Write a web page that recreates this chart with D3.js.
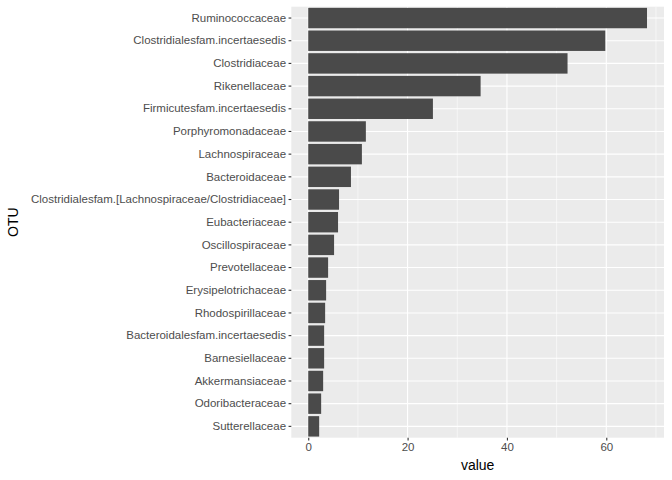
<!DOCTYPE html>
<html>
<head>
<script src="https://d3js.org/d3.v7.min.js"></script>
<style>body{margin:0;background:#fff}text{font-family:"Liberation Sans",Arial,sans-serif}</style>
</head>
<body>
<div id="chart"></div>
<script>
const otus = ["Ruminococcaceae","Clostridialesfam.incertaesedis","Clostridiaceae","Rikenellaceae",
  "Firmicutesfam.incertaesedis","Porphyromonadaceae","Lachnospiraceae","Bacteroidaceae",
  "Clostridialesfam.[Lachnospiraceae/Clostridiaceae]","Eubacteriaceae","Oscillospiraceae",
  "Prevotellaceae","Erysipelotrichaceae","Rhodospirillaceae","Bacteroidalesfam.incertaesedis",
  "Barnesiellaceae","Akkermansiaceae","Odoribacteraceae","Sutterellaceae"];
const values = [68.2,59.8,52.2,34.7,25.1,11.6,10.8,8.6,6.2,6.0,5.2,4.0,3.6,3.4,3.2,3.2,3.0,2.6,2.2];
const xTicks = [0,20,40,60];
const xMinor = [10,30,50,70];

const W = 672, H = 480;
const L = 291.3, R = 664, T = 6.7, B = 437.7;
const svg = d3.select("#chart").append("svg").attr("width", W).attr("height", H);

const x = d3.scaleLinear().domain([-3.41, 71.62]).range([L, R]);
const y = d3.scaleBand().domain(otus).range([T, B]).paddingInner(0.1).paddingOuter(0.05);

svg.append("rect").attr("x", L).attr("y", T).attr("width", R - L).attr("height", B - T).attr("fill", "#EBEBEB");

svg.selectAll(".minor").data(xMinor).join("line")
  .attr("x1", d => x(d)).attr("x2", d => x(d)).attr("y1", T).attr("y2", B)
  .attr("stroke", "#fff").attr("stroke-width", 0.55);
svg.selectAll(".major").data(xTicks).join("line")
  .attr("x1", d => x(d)).attr("x2", d => x(d)).attr("y1", T).attr("y2", B)
  .attr("stroke", "#fff").attr("stroke-width", 1.1);
svg.selectAll(".hgrid").data(otus).join("line")
  .attr("x1", L).attr("x2", R)
  .attr("y1", d => y(d) + y.bandwidth() / 2).attr("y2", d => y(d) + y.bandwidth() / 2)
  .attr("stroke", "#fff").attr("stroke-width", 1.1);

svg.selectAll(".bar").data(otus).join("rect")
  .attr("x", x(0)).attr("y", d => y(d))
  .attr("width", (d, i) => x(values[i]) - x(0)).attr("height", y.bandwidth())
  .attr("fill", "#4A4A4A");

const ya = svg.append("g").attr("transform", `translate(${L},0)`)
  .call(d3.axisLeft(y).tickSize(2.75).tickPadding(2.5));
const xa = svg.append("g").attr("transform", `translate(0,${B})`)
  .call(d3.axisBottom(x).tickValues(xTicks).tickSize(2.75).tickPadding(2.5));
[ya, xa].forEach(a => {
  a.select(".domain").remove();
  a.selectAll(".tick line").attr("stroke", "#333").attr("stroke-width", 1.1);
  a.selectAll(".tick text").attr("fill", "#4D4D4D").style("font-size", "11.5px");
});

svg.append("text").attr("x", (L + R) / 2).attr("y", 470).attr("text-anchor", "middle")
  .style("font-size", "14px").text("value");
svg.append("text").attr("transform", `translate(18,${(T + B) / 2}) rotate(-90)`)
  .attr("text-anchor", "middle").style("font-size", "14px").text("OTU");
</script>
</body>
</html>
